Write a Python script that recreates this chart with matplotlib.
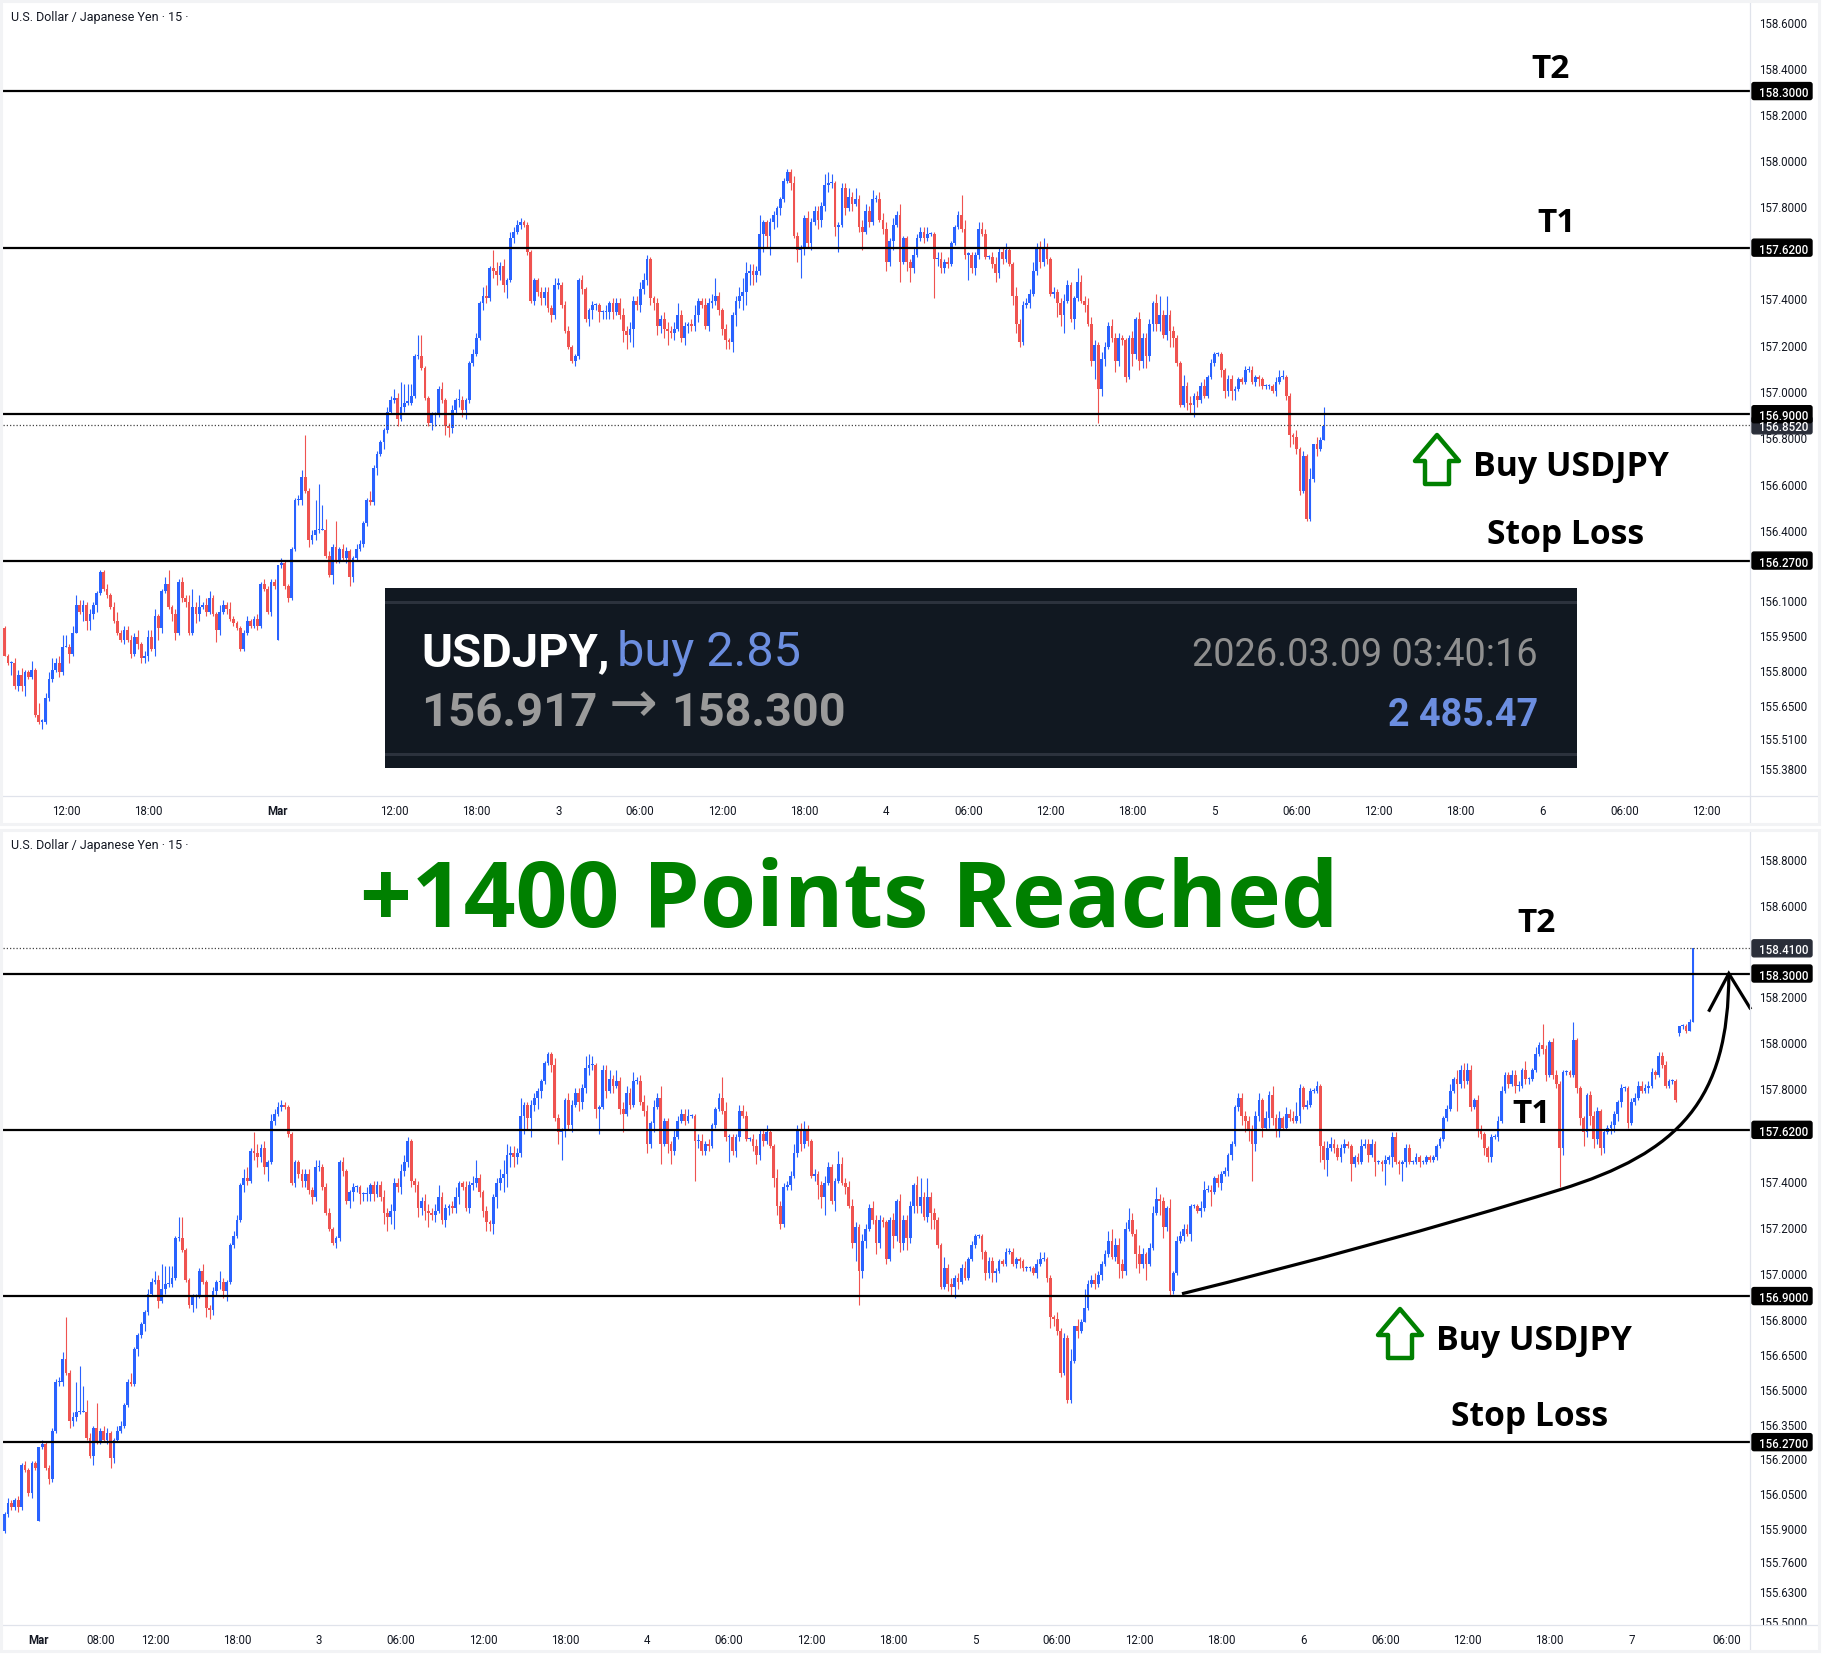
import matplotlib
matplotlib.use("Agg")
import matplotlib.pyplot as plt
from matplotlib.patches import Rectangle, Polygon, PathPatch, FancyBboxPatch
from matplotlib.path import Path
from matplotlib.lines import Line2D
from matplotlib.transforms import IdentityTransform
from matplotlib.ticker import NullLocator
import numpy as np

W, H = 1826, 1658

# ---------- DATA: USDJPY 15-minute candles ----------
closes_first = [
 155.86,155.83,155.83,155.73,155.78,155.73,155.79,155.77,155.80,155.61,155.58,155.58,155.68,155.76,155.80,155.83,155.79,155.90,155.90,155.87,
 155.96,156.08,156.05,156.08,156.01,156.04,156.08,156.13,156.22,156.15,156.12,156.07,156.01,155.96,155.93,155.97,155.93,155.87,155.94,155.91,
 155.85,155.86,155.94,155.89,156.03,155.98,156.14,156.17,156.07,156.04,155.96,156.18,156.11,156.09,155.96,156.07,156.04,156.07,156.08,156.05,
 156.11,156.04,155.97,156.05,156.08,156.06,156.02,156.00,155.98,155.89,155.96,156.01,155.99,156.02,155.99,156.17,156.15,156.05,156.18,156.16,
 156.25,156.26,156.16,156.11,156.32,156.53,156.53,156.63,156.57,156.36,156.38,156.40,156.40,156.40,156.29,156.21,156.33,156.27,156.32,156.28,
 156.31,156.20,156.28,156.32,156.34,156.43,156.53,156.52,156.67,156.73,156.78,156.83,156.91,156.96,156.97,156.88,156.93,156.95,156.95,156.98,
 157.15,157.15,157.10,156.97,156.86,156.90,156.90,157.01,156.96,156.85,156.84,156.92,156.96,156.96,156.92,156.96,157.12,157.16,157.23,157.38,
 157.41,157.40,157.53,157.52,157.50,157.54,157.46,157.48,157.66,157.69,157.72,157.73,157.72,157.60,157.39,157.48,157.43,157.40,157.43,157.36,
 157.33,157.46,157.46,157.37,157.26,157.19,157.13,157.15,157.48,157.44,157.31,157.35,157.37,157.37,157.34,157.34,157.34,157.38,157.34,157.38,
 157.33,157.26,157.24,157.27,157.39,157.37,157.44,157.48,157.57,157.40,157.38,157.28,157.31,157.27,157.26,157.25,157.27,157.33,157.23,157.28,
 157.29,157.28,157.33,157.39,157.37,157.28,157.38,157.39,157.41,157.35,157.27,157.22,157.21,157.33,157.39,157.41,157.43,157.51,157.52,157.50,
 157.52,157.68,157.73,157.67,157.73,157.76,157.79,157.83,157.91,157.95,157.90,157.67,157.61,157.62,157.75,157.64,157.73,157.78,157.74,157.80,
 157.89,157.90,157.90,157.71,157.72,157.88,157.79,157.84,157.81,157.83,157.71,157.69,157.78,157.73,157.83,157.83,157.74,157.70,157.56,157.65,
 157.72,157.76,157.56,157.66,157.56,157.53,157.59,157.66,157.69,157.66,157.68,157.68,157.57,157.57,157.53,157.56,157.55,157.64,157.71,157.76,
 157.70,157.59,157.59,157.53,157.59,157.70,157.68,157.58,157.58,157.55,157.51,157.60,157.57,157.61,157.55,157.41,157.29,157.21,157.37,157.38,
 157.42,157.52,157.62,157.56,157.62,157.57,157.42,157.43,157.38,157.33,157.39,157.46,157.31,157.40,157.47,157.39,157.37,157.29,157.13,157.20,
 157.01,157.14,157.19,157.28,157.23,157.13,157.23,157.22,157.06,157.23,157.16,157.31,157.13,157.23,157.15,157.29,157.38,157.29,157.33,157.24,
 157.33,157.26,157.23,157.12,156.94,157.02,156.95,156.94,156.98,156.96,157.02,156.98,157.06,157.12,157.16,157.16,157.09,157.00,157.05,157.00,
 157.01,157.05,157.04,157.09,157.09,157.04,157.06,157.05,157.02,157.02,157.02,157.00,157.04,157.06,157.06,156.98,156.81,156.80,156.75,156.57,
 156.72,156.45,156.62,156.77,156.75,156.79,156.85]
upper_first = [
 1,1,1,2,2,3,1,1,4,1,5,1,2,3,5,2,3,5,5,1,
 3,4,2,2,1,2,1,1,1,1,2,1,2,4,1,2,2,2,2,3,
 1,2,3,3,3,1,1,3,6,1,2,1,2,1,3,8,2,5,1,3,
 3,1,1,3,2,1,3,1,1,1,1,2,1,1,2,1,2,1,1,1,
 0,2,1,1,1,1,2,3,18,1,2,13,20,11,5,2,1,11,1,2,
 2,1,1,2,2,1,1,4,1,1,1,1,2,2,4,2,11,8,8,5,
 1,9,9,1,1,1,1,1,3,1,1,2,1,5,2,1,1,2,2,1,
 4,5,1,8,4,2,3,1,3,2,2,2,1,1,1,1,1,2,2,2,
 1,3,3,1,2,2,1,1,1,2,1,1,2,1,1,1,3,1,2,2,
 2,3,2,3,2,2,3,3,2,1,1,2,2,3,3,2,3,5,2,2,
 1,2,4,1,1,3,2,3,8,2,1,2,1,1,2,4,6,5,3,3,
 2,8,1,1,2,2,1,1,1,1,1,3,2,1,1,3,2,2,2,2,
 5,5,4,1,1,2,2,4,2,5,2,3,3,2,4,2,3,3,3,1,
 3,2,5,1,1,1,3,2,2,2,3,1,1,3,3,1,2,1,1,2,
 9,4,1,1,1,3,3,2,1,2,3,2,2,3,1,1,4,2,2,2,
 2,4,2,3,4,2,1,2,1,2,3,2,1,1,6,3,2,3,3,2,
 1,3,2,2,3,2,2,1,1,1,3,1,3,2,2,2,1,4,8,2,
 8,2,2,1,1,5,2,3,1,2,2,3,1,2,1,1,1,1,2,2,
 1,1,1,2,2,2,1,1,1,1,1,1,2,3,3,1,1,1,3,1,
 2,1,5,0,3,1,8]
lower_first = [
 0,1,5,1,2,2,4,1,1,1,1,3,1,1,1,1,2,1,0,4,
 1,0,1,4,4,4,2,3,1,1,1,1,1,1,1,2,1,2,1,2,
 2,2,2,1,3,5,2,1,1,3,3,1,2,2,1,1,4,3,1,2,
 1,1,5,2,1,2,1,1,1,1,1,1,1,1,2,1,1,1,2,1,
 0,1,1,2,1,1,2,2,1,3,2,2,1,0,1,1,4,1,1,1,
 2,4,2,1,1,1,1,1,1,3,1,3,1,1,1,3,1,2,1,1,
 1,1,1,1,1,3,5,1,1,4,4,2,2,3,3,4,1,1,1,1,
 3,2,1,3,4,2,3,6,1,2,1,2,1,1,1,2,2,3,3,2,
 3,2,2,1,1,1,1,2,1,2,1,3,4,2,4,3,3,3,3,1,
 2,5,6,3,8,2,3,2,2,3,3,4,3,4,6,2,3,1,2,3,
 3,2,2,3,1,1,2,2,2,2,3,4,3,4,5,3,6,6,5,4,
 3,2,8,5,8,3,5,3,1,1,3,1,5,12,3,2,3,1,4,3,
 2,3,2,4,11,1,3,1,3,1,2,8,1,2,1,1,1,2,4,2,
 4,1,9,1,4,6,2,1,1,2,1,1,17,3,2,2,2,1,1,1,
 1,2,11,2,3,2,1,1,1,2,4,2,2,1,1,4,4,2,1,1,
 2,1,2,3,2,2,1,2,6,5,8,1,1,4,1,1,3,1,2,8,
 15,3,3,1,2,5,2,2,2,1,5,2,4,3,5,2,3,3,3,1,
 2,7,4,1,1,1,3,4,5,3,1,1,1,1,1,1,3,3,2,4,
 4,1,1,1,1,1,2,3,1,1,1,1,2,1,1,2,5,3,2,2,
 1,1,1,1,3,1,0]

closes_second = [
 156.95,156.97,156.95,156.99,157.04,157.08,157.14,157.07,157.12,157.04,157.01,157.19,157.23,157.17,157.08,157.04,157.08,157.04,157.11,157.26,
 157.32,157.31,157.20,157.28,156.92,157.00,157.14,157.16,157.19,157.17,157.29,157.29,157.27,157.28,157.36,157.36,157.35,157.41,157.39,157.43,
 157.44,157.51,157.56,157.72,157.76,157.68,157.66,157.62,157.56,157.68,157.75,157.63,157.67,157.77,157.67,157.62,157.67,157.63,157.69,157.67,
 157.66,157.68,157.80,157.72,157.73,157.79,157.79,157.81,157.55,157.49,157.54,157.56,157.54,157.50,157.54,157.56,157.55,157.47,157.50,157.48,
 157.55,157.56,157.51,157.56,157.48,157.48,157.47,157.49,157.50,157.59,157.48,157.47,157.48,157.54,157.48,157.48,157.50,157.48,157.48,157.50,
 157.49,157.50,157.55,157.58,157.67,157.71,157.79,157.84,157.82,157.88,157.83,157.88,157.72,157.75,157.62,157.60,157.54,157.50,157.59,157.59,
 157.66,157.79,157.86,157.82,157.86,157.81,157.81,157.88,157.84,157.84,157.88,157.95,157.99,157.97,157.86,158.00,157.86,157.82,157.54,157.87,
 157.87,157.86,158.01,157.80,157.67,157.61,157.77,157.68,157.58,157.70,157.54,157.61,157.63,157.64,157.69,157.74,157.80,157.80,157.65,157.74,157.76,
 157.81,157.79,157.80,157.81,157.87,157.86,157.94,157.90,157.81,157.83,157.83,157.75,158.07,158.07,158.05,158.09,158.41]
upper_second = [
 2,2,3,2,1,2,4,5,3,3,2,3,5,3,2,4,3,1,2,3,
 5,2,2,1,4,1,2,2,2,2,1,1,1,3,4,2,2,1,2,1,
 2,1,1,1,2,2,2,2,2,2,3,1,3,2,4,2,3,1,3,2,
 3,6,2,1,2,1,1,2,1,2,3,3,2,2,2,2,1,1,1,2,
 3,2,2,2,1,1,1,2,1,2,2,1,1,2,2,1,2,1,1,1,
 1,1,1,1,1,2,3,1,4,2,3,3,2,1,2,2,1,1,1,1,
 2,2,1,1,2,2,2,1,4,1,1,3,1,9,2,1,2,2,1,1,
 1,1,8,1,1,1,1,2,2,2,1,1,1,2,1,1,2,1,1,2,2,
 2,2,2,2,2,1,2,2,2,1,1,1,0,1,1,1,0]
lower_second = [
 1,1,2,1,2,1,1,1,2,6,3,2,1,1,6,4,2,7,1,1,
 1,6,5,2,2,1,1,1,2,1,3,1,1,3,1,1,6,1,2,3,
 1,2,2,1,2,4,5,5,16,3,2,4,1,4,3,3,3,1,1,1,
 1,1,3,1,1,1,1,1,7,4,7,1,2,1,2,2,1,7,1,1,
 1,1,3,1,6,1,3,9,2,4,1,4,7,2,1,1,1,2,1,1,
 1,1,1,1,1,1,1,1,12,2,3,1,2,1,3,2,3,2,2,1,
 2,1,1,2,1,3,2,1,2,2,1,1,1,2,3,1,2,2,17,3,
 1,1,1,2,3,6,2,4,4,2,3,2,1,3,3,3,2,1,2,1,1,
 1,1,1,2,1,2,1,1,1,1,1,1,1,1,1,0,0]
open_gaps = {0: 155.98, 80: 155.93, 560: 158.04}

level_prices = [158.30, 157.62, 156.90, 156.27]
level_labels = ["158.3000", "157.6200", "156.9000", "156.2700"]
top_last_price, top_last_label = 156.852, "156.8520"
bottom_last_price, bottom_last_label = 158.41, "158.4100"

top_yticks = [158.6,158.4,158.2,158.0,157.8,157.4,157.2,157.0,156.8,156.6,156.4,156.1,155.95,155.8,155.65,155.51,155.38]
bottom_yticks = [158.8,158.6,158.2,158.0,157.8,157.4,157.2,157.0,156.8,156.65,156.5,156.35,156.2,156.05,155.9,155.76,155.63,155.5]
top_xticks = [18,42,80,114,138,162,186,210,234,258,282,306,330,354,378,402,426,450,474,498]
top_xlabels = ["12:00","18:00","Mar","12:00","18:00","3","06:00","12:00","18:00","4","06:00","12:00","18:00","5","06:00","12:00","18:00","6","06:00","12:00"]
bottom_xticks = [80,98,114,138,162,186,210,234,258,282,306,330,354,378,402,426,450,474,498,522,546,574]
bottom_xlabels = ["Mar","08:00","12:00","18:00","3","06:00","12:00","18:00","4","06:00","12:00","18:00","5","06:00","12:00","18:00","6","06:00","12:00","18:00","7","06:00"]

curve_bars = [414.5, 450, 490, 525, 560, 574.5, 574.5]
curve_prices = [156.91, 157.04, 157.20, 157.36, 157.52, 157.75, 158.30]
head_bars = [568.8, 574.5, 580.7]
head_prices = [158.14, 158.30, 158.15]

# ---------- derived candle arrays ----------
closes = np.array(closes_first + closes_second)
upper = np.array(upper_first + upper_second) / 100
lower = np.array(lower_first + lower_second) / 100
assert len(closes) == len(upper) == len(lower), (len(closes), len(upper), len(lower))
opens = np.r_[closes[0], closes[:-1]]
for k, v in open_gaps.items():
    opens[k] = v
highs = np.maximum(opens, closes) + upper
lows = np.minimum(opens, closes) - lower
idx = np.arange(len(closes))

BLUE, RED = "#2962FF", "#EF5350"
UI = ["Roboto", "DejaVu Sans"]
BOLD = ["Open Sans", "DejaVu Sans"]
GRID = "#E0E3EB"
FRAME = "#F2F3F5"
TXT = "#131722"

fig = plt.figure(figsize=(W / 100, H / 100), dpi=100, facecolor="white")


def add_px_axes(x0, y0, x1, y1):
    return fig.add_axes([x0 / W, 1 - y1 / H, (x1 - x0) / W, (y1 - y0) / H])


def px_text(x, y, s, **kw):
    kw.setdefault("va", "center")
    kw.setdefault("ha", "left")
    return fig.text(x / W, 1 - y / H, s, **kw)


def px_patch(p):
    fig.add_artist(p)
    return p


def to_fig(pts):
    return [(x / W, 1 - y / H) for x, y in pts]


def px_line(x0, y0, x1, y1, color=GRID, lw=0.9, z=4):
    fig.add_artist(Line2D([x0 / W, x1 / W], [1 - y0 / H, 1 - y1 / H], color=color, lw=lw, zorder=z))


def draw_panel(y0, y1, n_last, xlim, ylim, yticks, xticks, xlabels, last_price, last_label, frame_top, frame_bot):
    ax = add_px_axes(3, y0, 1750, y1)
    sel = idx[:n_last]
    col = np.where(closes[sel] >= opens[sel], BLUE, RED)
    ax.vlines(sel, lows[sel], highs[sel], colors=col, lw=0.8, zorder=2)
    body_lo = np.minimum(opens[sel], closes[sel])
    body_h = np.maximum(np.abs(closes[sel] - opens[sel]), 0.005)
    ax.bar(sel, body_h, bottom=body_lo, width=0.8, color=col, linewidth=0, zorder=2.1)
    ax.set_yscale("log")
    ax.set_xlim(*xlim)
    ax.set_ylim(*ylim)
    ax.yaxis.set_minor_locator(NullLocator())
    ax.yaxis.tick_right()
    ax.set_yticks(yticks)
    ax.set_yticklabels([f"{v:.4f}" for v in yticks], fontfamily=UI, fontsize=8.3, color=TXT)
    ax.yaxis.set_minor_locator(NullLocator())
    ax.set_xticks(xticks)
    ax.set_xticklabels(xlabels, fontfamily=UI, fontsize=8.3, color=TXT)
    for lab, s in zip(ax.get_xticklabels(), xlabels):
        if s == "Mar":
            lab.set_fontweight("bold")
    ax.tick_params(axis="both", which="both", length=0)
    ax.tick_params(axis="y", pad=6.5)
    ax.tick_params(axis="x", pad=6)
    for s in ax.spines.values():
        s.set_visible(False)
    for p in level_prices:
        ax.axhline(p, color="black", lw=1.6, zorder=3)
    ax.axhline(last_price, color="#444444", lw=0.9, ls=(0, (1, 1.6)), zorder=3)

    fig.canvas.draw()
    identity = IdentityTransform()

    def badge(price, label, color):
        yp = ax.transData.transform((0, price))[1]
        px_patch(FancyBboxPatch((1752, yp - 8.5), 60, 17,
                                boxstyle="round,pad=0,rounding_size=2",
                                transform=identity, fc=color, ec=color, lw=1, zorder=5))
        fig.text(1758.5 / W, yp / H, label, color="white", fontfamily=UI, fontweight="medium", fontsize=8.3,
                 va="center_baseline", ha="left", zorder=6)

    badge(last_price, last_label, "#2A2E39")
    for p, s in zip(level_prices, level_labels):
        badge(p, s, "#000000")

    px_line(3, y1, 1817, y1)
    px_line(1750, frame_top, 1750, frame_bot)
    px_patch(Rectangle(to_fig([(1.2, frame_bot)])[0], (1818.6 - 1.2) / W, (frame_bot - frame_top) / H,
                       transform=fig.transFigure, fill=False, ec=FRAME, lw=2.2, zorder=7))
    return ax


ax_top = draw_panel(3, 796.5, 387, (-0.44, 510.7), (155.264, 158.688), top_yticks, top_xticks, top_xlabels,
                    top_last_price, top_last_label, 1.5, 825)
ax_bot = draw_panel(831, 1626, len(closes), (69.54, 580.7), (155.485, 158.927), bottom_yticks, bottom_xticks, bottom_xlabels,
                    bottom_last_price, bottom_last_label, 831, 1652)

# hide the clipped part of the last scale label in the lower panel
px_patch(Rectangle(to_fig([(1751, 1650)])[0], 65 / W, 23.5 / H, transform=fig.transFigure, fc="white", ec="none", zorder=3.5))

# header
for yy in (17.5, 845.5):
    px_text(11, yy, "U.S. Dollar / Japanese Yen · 15 ·", fontfamily=UI, fontsize=9, color=TXT)


# green outlined arrows
def up_arrow(dx, dy):
    pts = [(1437, 436), (1459, 462), (1449, 462), (1449, 485), (1425, 485), (1425, 462), (1415, 462)]
    pts = [(x + dx, y + dy) for x, y in pts]
    px_patch(Polygon(to_fig(pts), closed=True, transform=fig.transFigure, fc="white", ec="#008000",
                     lw=3.2, joinstyle="round", zorder=4))


up_arrow(0, 0)
up_arrow(-37, 874)

# annotations
ann = dict(fontfamily=BOLD, fontweight="bold", color="black", ha="center", zorder=6)
px_text(1550, 70, "T2", fontsize=24, **ann)
px_text(1557, 223, "T1", fontsize=24, **ann)
px_text(1571, 467, "Buy USDJPY", fontsize=24.4, **ann)
px_text(1566, 535, "Stop Loss", fontsize=24.2, **ann)
px_text(1536, 924, "T2", fontsize=24, **ann)
px_text(1532, 1115, "T1", fontsize=24, **ann)
px_text(1534, 1341, "Buy USDJPY", fontsize=24.4, **ann)
px_text(1530, 1417, "Stop Loss", fontsize=24.2, **ann)
px_text(849, 903, "+1400 Points Reached", fontsize=65.4, fontfamily=BOLD, fontweight="bold", color="#008000",
        ha="center", zorder=6)

# curved arrow in the lower panel
verts = list(zip(curve_bars, curve_prices))
ax_bot.add_patch(PathPatch(Path(verts, [Path.MOVETO] + [Path.CURVE4] * 6),
                           fc="none", ec="black", lw=2.3, zorder=4))
ax_bot.plot(head_bars, head_prices, color="black", lw=2.3, zorder=4, clip_on=False, solid_joinstyle="miter")

# dark trade banner
px_patch(Rectangle(to_fig([(385, 769)])[0], 1192 / W, 180 / H, transform=fig.transFigure, fc="#111821", ec="none", zorder=5))
for yy in (603, 755):
    px_patch(Rectangle(to_fig([(385, yy + 1.5)])[0], 1192 / W, 3 / H, transform=fig.transFigure, fc="#2C323D", ec="none", zorder=5.1))
px_text(421, 653, "USDJPY,", fontfamily=UI, fontweight="bold", fontsize=34, color="white", zorder=6)
px_text(617, 653, "buy 2.85", fontfamily=UI, fontsize=35, color="#6C8EE0", zorder=6)
px_text(421, 713, "156.917", fontfamily=UI, fontweight="bold", fontsize=34, color="#9A9A9A", zorder=6)
px_text(633, 706, "→", fontfamily=["DejaVu Sans"], fontsize=42, color="#9A9A9A", ha="center", zorder=6)
px_text(671, 713, "158.300", fontfamily=UI, fontweight="bold", fontsize=33.7, color="#9A9A9A", zorder=6)
px_text(1538, 656, "2026.03.09 03:40:16", fontfamily=UI, fontsize=27.3, color="#8F8F8F", ha="right", zorder=6)
px_text(1538, 716, "2 485.47", fontfamily=UI, fontweight="bold", fontsize=27.2, color="#6C8EE0", ha="right", zorder=6)

fig.savefig("out.png", dpi=100, facecolor="white")
